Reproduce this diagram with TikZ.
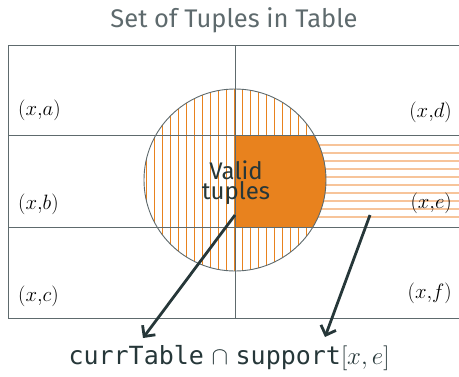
\documentclass[tikz,border=0pt]{standalone}
\usepackage{fontspec}
\setsansfont{Fira Sans}
\setmonofont{DejaVu Sans Mono}
\usepackage{xcolor}
\usepackage{tikz}
\usetikzlibrary{arrows.meta}

\definecolor{gris}{HTML}{5E6A6D}
\definecolor{tinta}{HTML}{263739}
\definecolor{naranja}{HTML}{E8821E}
\definecolor{naranjaclaro}{HTML}{F7C49A}

\begin{document}
\begin{tikzpicture}[
    x=1pt, y=-1pt,
    rejilla/.style={draw=gris, line width=0.9pt},
    etiqueta/.style={font=\fontsize{20}{24}\selectfont, inner sep=0pt},
    rayado/.style={draw=naranja, line width=0.6pt},
    franja/.style={draw=naranjaclaro, line width=1.6pt},
    flecha/.style={draw=tinta, line width=2.8pt,
                   -{Straight Barb[length=8pt, width=16pt, line width=2.8pt]}}
  ]
  \useasboundingbox (0,0) rectangle (459,376);

  % --- Franjas de support[x,e] ---
  \foreach \y in {145,153,...,217}
    \draw[franja] (235,\y) -- (459,\y);

  % --- Circulo de tuplas ---
  \fill[white] (235,180) circle (91);
  \begin{scope}
    \clip (235,180) circle (91);
    \foreach \x in {146,154,...,326}
      \draw[rayado] (\x,85) -- (\x,275);
    \fill[naranja] (235,135) rectangle (330,227);
  \end{scope}
  \draw[rejilla] (235,180) circle (91);

  % --- Tabla ---
  \draw[rejilla] (459,45) -- (8,45) -- (8,318) -- (459,318);
  \draw[rejilla] (8,135) -- (459,135);
  \draw[rejilla] (8,227) -- (459,227);
  \draw[rejilla] (235,45) -- (235,318);

  % --- Textos ---
  \node[font=\sffamily\fontsize{25.5}{30}\selectfont, text=gris] (titulo)
       at (234,20) {Set of Tuples in Table};
  \node[font=\sffamily\fontsize{24}{20}\selectfont, text=tinta, align=center,
        inner sep=0pt] (validas) at (236,183) {Valid\\tuples};

  \node[etiqueta, anchor=west] (xa) at (18,110) {$(x{,}a)$};
  \node[etiqueta, anchor=west] (xb) at (18,204) {$(x{,}b)$};
  \node[etiqueta, anchor=west] (xc) at (18,296) {$(x{,}c)$};
  \node[etiqueta, anchor=east] (xd) at (452,112) {$(x{,}d)$};
  \node[etiqueta, anchor=east] (xe) at (452,203) {$(x{,}e)$};
  \node[etiqueta, anchor=east] (xf) at (452,293) {$(x{,}f)$};

  \node[font=\fontsize{25}{30}\selectfont, text=tinta, inner sep=0pt]
       (interseccion) at (229,358)
       {\texttt{currTable} $\cap$ \texttt{support}$[x,e]$};

  % --- Flechas hacia la interseccion ---
  \coordinate (origenA)  at (235,215);
  \coordinate (destinoA) at (143,338);
  \coordinate (origenB)  at (370,215);
  \coordinate (destinoB) at (325,337);
  \draw[flecha] (origenA) -- (destinoA);
  \draw[flecha] (origenB) -- (destinoB);
\end{tikzpicture}
\end{document}
